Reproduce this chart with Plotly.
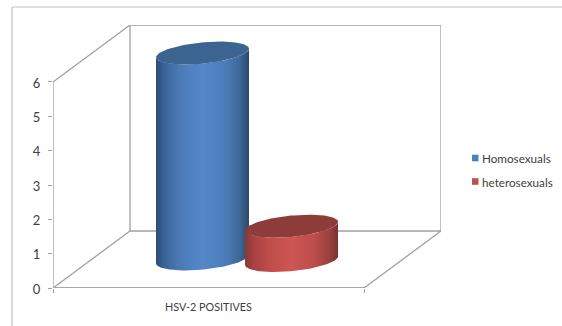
import numpy as np
import plotly.graph_objects as go

# Chart data
category = "HSV-2 POSITIVES"
series_names = ["Homosexuals", "heterosexuals"]
series_values = [6, 1]
y_ticks = [0, 1, 2, 3, 4, 5, 6]

# Pseudo-3D geometry in axis units
Y_MAX = 6
DEPTH_X, DEPTH_Y = 0.2476, 1.66
CENTERS_X = [0.4807, 0.767]
BASE_Y = [0.845, 0.80]
RADIUS_X = 0.1495
RADIUS_Y = 0.31
TILT_Y = 0.125

SIDE_SCALES = [
    [[0, "#2b4d78"], [0.1, "#3b659a"], [0.25, "#4a7ab5"], [0.5, "#5587c9"],
     [0.75, "#4c7cb8"], [0.9, "#3e6799"], [1, "#2a4767"]],
    [[0, "#8c3735"], [0.1, "#a84341"], [0.25, "#bd4d4a"], [0.5, "#cd5654"],
     [0.75, "#bb4d4a"], [0.9, "#9a4240"], [1, "#7a3230"]],
]
TOP_COLORS = ["#3c6491", "#8d3c39"]
SWATCH_COLORS = ["#4f81bd", "#c0504d"]
WALL = "#a0a0a0"
TEXT = "#404040"
FONT = "Lato"

fig = go.Figure()


def wall_line(xs, ys, width=1.3, color=WALL):
    fig.add_trace(go.Scatter(x=xs, y=ys, mode="lines", cliponaxis=False,
                             line=dict(color=color, width=width),
                             hoverinfo="skip", showlegend=False))


# Back wall, side wall and floor edges
wall_line([DEPTH_X, DEPTH_X + 1, DEPTH_X + 1, DEPTH_X, DEPTH_X],
          [DEPTH_Y, DEPTH_Y, Y_MAX + DEPTH_Y, Y_MAX + DEPTH_Y, DEPTH_Y])
wall_line([0, DEPTH_X], [0, DEPTH_Y])
wall_line([0, DEPTH_X], [Y_MAX, Y_MAX + DEPTH_Y])
wall_line([1, 1 + DEPTH_X], [0, DEPTH_Y])
wall_line([0, 0], [0, Y_MAX], 1.3)
wall_line([0, 1], [0, 0], 1.8, "#a8a8a8")


def ellipse_point(cx, cy, t):
    return (cx + RADIUS_X * np.cos(t),
            cy + RADIUS_Y * np.sin(t) + TILT_Y * np.cos(t))


# Each cylinder: shaded side first, then its darker top cap
for name, value, cx, base, scale, top in zip(series_names, series_values, CENTERS_X,
                                             BASE_Y, SIDE_SCALES, TOP_COLORS):
    t_low = np.linspace(np.pi, 2 * np.pi, 60)
    bx, by = ellipse_point(cx, base, t_low)
    t_up = np.linspace(2 * np.pi, np.pi, 60)
    ux, uy = ellipse_point(cx, base + value, t_up)
    fig.add_trace(go.Scatter(
        x=np.concatenate([bx, ux]), y=np.concatenate([by, uy]),
        mode="lines", fill="toself", line=dict(width=0), name=name,
        fillgradient=dict(type="horizontal", colorscale=scale),
        cliponaxis=False, showlegend=False))
    t = np.linspace(0, 2 * np.pi, 120)
    tx, ty = ellipse_point(cx, base + value, t)
    fig.add_trace(go.Scatter(
        x=tx, y=ty, mode="lines", fill="toself", fillcolor=top,
        line=dict(width=0, color=top), name=name,
        cliponaxis=False, showlegend=False))

# Hand-placed legend and outer chart frame
shapes = [
    dict(type="line", xref="paper", yref="paper", x0=(12 - 53) / 388, x1=(562 - 53) / 388,
         y0=(288 - 7) / 263, y1=(288 - 7) / 263, line=dict(color="#d4d4d4", width=1.5)),
    dict(type="line", xref="paper", yref="paper", x0=(12 - 53) / 388, x1=(12 - 53) / 388,
         y0=(288 - 7) / 263, y1=(288 - 326) / 263, line=dict(color="#cccccc", width=1.5)),
]
annotations = []
for name, color, py in zip(series_names, SWATCH_COLORS, [158, 181.5]):
    shapes.append(dict(type="rect", xref="paper", yref="paper",
                       x0=(472 - 53) / 388, x1=(478.5 - 53) / 388,
                       y0=(288 - py - 3.3) / 263, y1=(288 - py + 3.3) / 263,
                       fillcolor=color, line=dict(width=0)))
    annotations.append(dict(text=name, xref="paper", yref="paper",
                            x=(480 - 53) / 388, y=(288 - py) / 263,
                            xanchor="left", yanchor="middle", showarrow=False,
                            font=dict(family=FONT, size=11.7, color=TEXT)))

fig.update_layout(
    width=562, height=326,
    margin=dict(l=53, r=121, t=25, b=38),
    paper_bgcolor="white", plot_bgcolor="white",
    showlegend=False, shapes=shapes, annotations=annotations,
    font=dict(family=FONT, size=12, color=TEXT),
    xaxis=dict(range=[0, 1 + DEPTH_X], showgrid=False, zeroline=False, showline=False,
               tickmode="array", tickvals=[0.5], ticktext=[category], ticks="",
               ticklabelstandoff=11, tickfont=dict(family=FONT, size=10.8, color=TEXT),
               minor=dict(tickmode="array", tickvals=[0, 1], ticks="outside",
                          ticklen=4, tickcolor=WALL, tickwidth=1)),
    yaxis=dict(range=[0, Y_MAX + DEPTH_Y], showgrid=False, zeroline=False, showline=False,
               tickmode="array", tickvals=y_ticks, ticks="outside", ticklen=4,
               tickcolor=WALL, tickwidth=1, ticklabelstandoff=5, ticklabelshift=1,
               tickfont=dict(family=FONT, size=13, color=TEXT)),
)

fig.write_html("out.html")
